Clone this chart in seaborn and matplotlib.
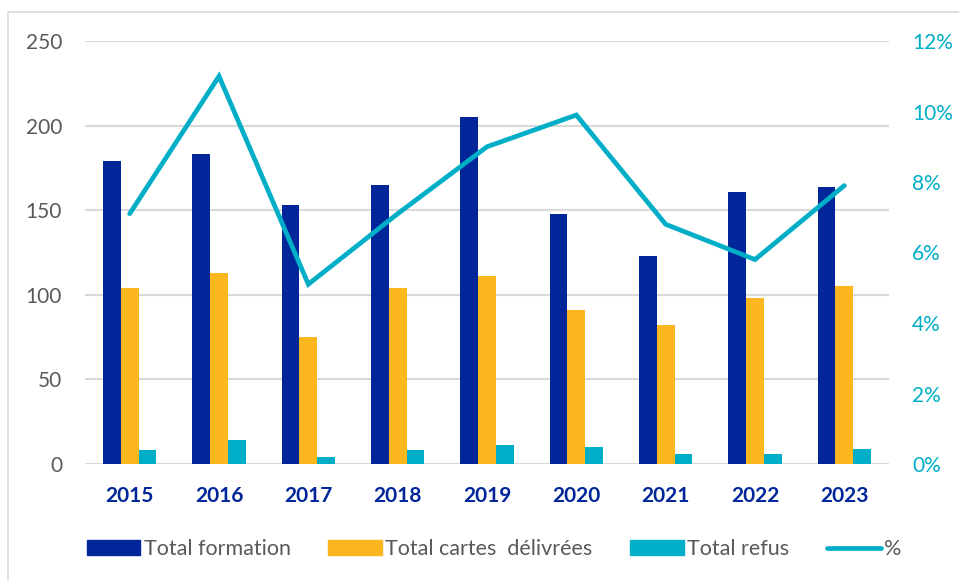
import numpy as np
import pandas as pd
import matplotlib
matplotlib.use("Agg")
import matplotlib.pyplot as plt
import seaborn as sns
from matplotlib.lines import Line2D
from matplotlib.patches import Patch

years = ["2015", "2016", "2017", "2018", "2019", "2020", "2021", "2022", "2023"]
total_formation = [179, 183, 153, 165, 205, 148, 123, 161, 164]
total_cartes = [104, 113, 75, 104, 111, 91, 82, 98, 105]
total_refus = [8, 14, 4, 8, 11, 10, 6, 6, 9]
pct = [7.1, 11.0, 5.1, 7.1, 9.0, 9.9, 6.8, 5.8, 7.9]

series_names = ["Total formation", "Total cartes  délivrées", "Total refus"]
colors = ["#00269A", "#FDB71E", "#00AEC7"]
line_color = "#00AEC7"

sns.set_style("white")
plt.rcParams["font.family"] = ["Lato", "DejaVu Sans"]

df = pd.DataFrame({
    "year": years * 3,
    "value": total_formation + total_cartes + total_refus,
    "serie": [s for s in series_names for _ in years],
})

W, H = 959, 581
fig = plt.figure(figsize=(W / 100, H / 100), dpi=100)
ax = fig.add_axes([85 / W, 1 - 464 / H, 804 / W, 423 / H])

sns.barplot(data=df, x="year", y="value", hue="serie", palette=colors,
            width=0.6, saturation=1, ax=ax, legend=False, edgecolor="none")

ax.set_ylim(0, 250)
ax.set_yticks(range(0, 251, 50))
ax.set_xlim(-0.5, 8.5)
ax.yaxis.grid(True, color="#D9D9D9", lw=1.5)
ax.set_axisbelow(True)
for s in ax.spines.values():
    s.set_visible(False)
ax.set_xlabel("")
ax.set_ylabel("")
ax.tick_params(axis="y", length=0, pad=16.5, labelsize=15, labelcolor="#595959")
ax.tick_params(axis="x", length=0, pad=16, labelsize=15, labelcolor="#002699")
for lab in ax.get_xticklabels():
    lab.set_fontweight("bold")

ax2 = ax.twinx()
sns.lineplot(x=np.arange(len(years)), y=pct, ax=ax2, color=line_color, lw=3.4,
             solid_capstyle="round", solid_joinstyle="miter")
ax2.set_ylim(0, 12)
ax2.set_yticks(range(0, 13, 2))
ax2.set_yticklabels([f"{v}%" for v in range(0, 13, 2)])
ax2.tick_params(axis="y", length=0, pad=16.5, labelsize=15, labelcolor=line_color)
for s in ax2.spines.values():
    s.set_visible(False)
ax2.set_xlim(-0.5, 8.5)

handles = [Patch(color=c) for c in colors] + [Line2D([0], [0], color=line_color, lw=3.4, solid_capstyle="round")]
labels = series_names + ["%"]
fig.legend(handles, labels, loc="center", bbox_to_anchor=(494 / W, 1 - 549 / H), ncol=4,
           frameon=False, fontsize=15.5, handlelength=2.5, handleheight=0.65,
           handletextpad=0.15, columnspacing=1.75, labelcolor="#595959")

# thin frame around the chart (top and left edges visible)
fig.add_artist(Line2D([8 / W, 1], [1 - 12 / H, 1 - 12 / H], color="#D9D9D9", lw=1.2))
fig.add_artist(Line2D([8 / W, 8 / W], [0, 1 - 12 / H], color="#D9D9D9", lw=1.2))

fig.savefig("out.png", dpi=100)
